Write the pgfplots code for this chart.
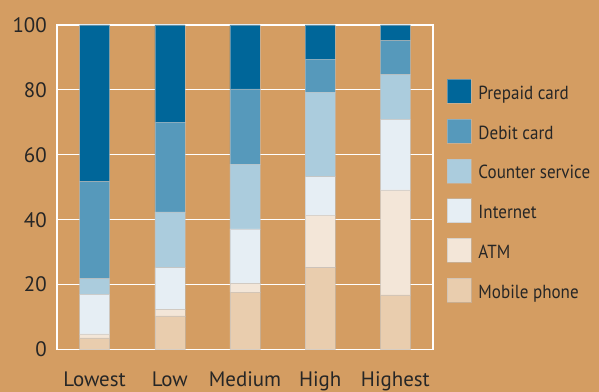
\documentclass[border=0pt]{standalone}
\usepackage{fontspec}
\setmainfont{PT Sans}
\newfontfamily\legendfont{PT Sans}[FakeStretch=0.9]
\usepackage{pgfplots}
\usepackage{pgfplotstable}
\pgfplotsset{compat=1.18}

\definecolor{bg}{RGB}{212,157,98}
\definecolor{cprepaid}{RGB}{0,102,153}
\definecolor{cdebit}{RGB}{86,153,187}
\definecolor{ccounter}{RGB}{171,204,221}
\definecolor{cinternet}{RGB}{230,238,244}
\definecolor{catm}{RGB}{243,230,216}
\definecolor{cmobile}{RGB}{233,205,174}

% Share of payments by channel (%), per income group
\pgfplotstableread{
x mobile atm internet counter debit prepaid
0 3.6  1.2  12.2 4.9  29.8 48.3
1 10.4 2.0  12.8 17.2 27.7 29.9
2 17.7 2.7  16.8 19.9 23.2 19.7
3 25.2 16.2 11.9 26.0 10.2 10.5
4 16.8 32.4 21.7 13.9 10.4 4.8
}\shares

\begin{document}
\begin{tikzpicture}
\useasboundingbox (0,0) rectangle (599bp,392bp);
\fill[bg] (0,0) rectangle (599bp,392bp);
\begin{axis}[
  at={(57bp,42.5bp)}, anchor=south west,
  scale only axis, width=376bp, height=324.5bp,
  ybar stacked, bar width=30bp,
  xmin=-0.5, xmax=4.5, ymin=0, ymax=100,
  xtick={0,1,2,3,4},
  xticklabels={Lowest,Low,Medium,High,Highest},
  ytick={0,20,40,60,80,100},
  ymajorgrids,
  grid style={white, line width=1.2bp},
  axis line style={white, line width=1.2bp},
  major tick length=0pt,
  /pgf/number format/assume math mode=true,
  tick label style={font=\fontsize{21}{24}\selectfont, text=black!85},
  yticklabel style={anchor=east, inner sep=0pt, xshift=-10bp},
  xticklabel style={anchor=base, inner sep=0pt, yshift=-37bp},
  every axis plot/.append style={draw=black!25, draw opacity=0.5, line width=0.5bp},
  reverse legend,
  legend image code/.code={\fill[#1] (0bp,-4bp) rectangle (24bp,20bp);},
  legend style={
    at={(1.0372,0.8336)}, anchor=north west,
    draw=none, fill=none, inner sep=0pt, outer sep=0pt,
    row sep=15.3bp, column sep=7bp,
    font=\legendfont\fontsize{19}{22}\selectfont,
    nodes={inner sep=0pt, text height=20bp, text depth=4bp, anchor=base west, text=black!85},
  },
  legend cell align=left,
]
\addplot[fill=cmobile]   table[x=x, y=mobile]   {\shares};
\addplot[fill=catm]      table[x=x, y=atm]      {\shares};
\addplot[fill=cinternet] table[x=x, y=internet] {\shares};
\addplot[fill=ccounter]  table[x=x, y=counter]  {\shares};
\addplot[fill=cdebit]    table[x=x, y=debit]    {\shares};
\addplot[fill=cprepaid]  table[x=x, y=prepaid]  {\shares};
\legend{Mobile phone, ATM, Internet, Counter service, Debit card, Prepaid card}
\end{axis}
\end{tikzpicture}
\end{document}
